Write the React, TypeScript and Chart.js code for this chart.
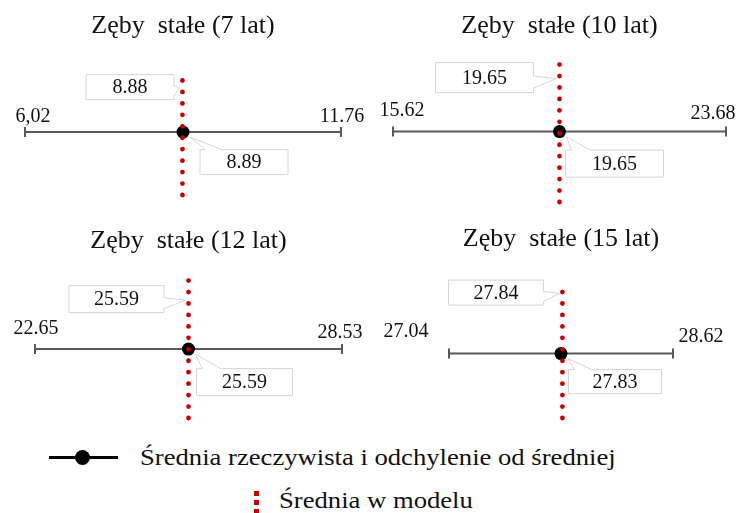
import React, { useEffect, useRef } from "react";
import { Chart, registerables } from "chart.js";

Chart.register(...registerables);

// ---- data ----
const panelTitles = [
  "Zęby  stałe (7 lat)",
  "Zęby  stałe (10 lat)",
  "Zęby  stałe (12 lat)",
  "Zęby  stałe (15 lat)",
];
const lowValues = [6.02, 15.62, 22.65, 27.04];
const highValues = [11.76, 23.68, 28.53, 28.62];
const realMeans = [8.89, 19.65, 25.59, 27.83];
const modelMeans = [8.88, 19.65, 25.59, 27.84];
const lowLabels = ["6,02", "15.62", "22.65", "27.04"];
const highLabels = ["11.76", "23.68", "28.53", "28.62"];
const realLabels = ["8.89", "19.65", "25.59", "27.83"];
const modelLabels = ["8.88", "19.65", "25.59", "27.84"];
const legendLabels = [
  "Średnia rzeczywista i odchylenie od średniej",
  "Średnia w modelu",
];

// ---- layout / style ----
type Layout = {
  left: number;
  top: number;
  w: number;
  h: number;
  pad: { left: number; right: number; top: number; bottom: number };
  titlePad: { top: number; bottom: number };
  lowOff: [number, number];
  highOff: [number, number];
  upBox: [number, number, number, number];
  downBox: [number, number, number, number];
};

const layouts: Layout[] = [
  {
    left: 0, top: 0, w: 371, h: 210,
    pad: { left: 25, right: 30, top: 0, bottom: 15 },
    titlePad: { top: 11, bottom: 27 },
    lowOff: [8, -15], highOff: [1, -15],
    upBox: [-53, -45, 88, 25], downBox: [61, 30, 88, 25],
  },
  {
    left: 371, top: 0, w: 371, h: 210,
    pad: { left: 22, right: 16, top: 0, bottom: 8 },
    titlePad: { top: 11, bottom: 19 },
    lowOff: [9, -21], highOff: [-13, -18],
    upBox: [-75, -54, 98, 30], downBox: [55, 32, 98, 27],
  },
  {
    left: 0, top: 210, w: 371, h: 215,
    pad: { left: 35, right: 29, top: 0, bottom: 5 },
    titlePad: { top: 16, bottom: 23 },
    lowOff: [1, -20], highOff: [-2, -16],
    upBox: [-72, -50, 95, 27], downBox: [56, 33, 96, 27],
  },
  {
    left: 371, top: 210, w: 371, h: 215,
    pad: { left: 78, right: 69, top: 0, bottom: 3 },
    titlePad: { top: 14, bottom: 34 },
    lowOff: [-43, -22], highOff: [28, -17],
    upBox: [-65, -61, 95, 25], downBox: [54, 28, 93, 24],
  },
];

const SERIF = '"Liberation Serif", "Times New Roman", serif';
const RED = "#c80000";
const WHISKER = "#595959";
const BOX_BORDER = "#d6d6d6";

function Panel({ idx }: { idx: number }) {
  const ref = useRef<HTMLCanvasElement | null>(null);
  const L = layouts[idx];

  useEffect(() => {
    if (!ref.current) return;

    const labelPlugin = {
      id: "panelLabels",
      afterDatasetsDraw(chart: any) {
        const ctx = chart.ctx as CanvasRenderingContext2D;
        const xs = chart.scales.x;
        const ys = chart.scales.y;
        const y0 = ys.getPixelForValue(0);
        const lowX = xs.getPixelForValue(lowValues[idx]);
        const highX = xs.getPixelForValue(highValues[idx]);
        const dotX = xs.getPixelForValue(realMeans[idx]);
        const modelX = xs.getPixelForValue(modelMeans[idx]);

        ctx.save();
        ctx.font = `20px ${SERIF}`;
        ctx.fillStyle = "#111";
        ctx.textAlign = "center";
        ctx.textBaseline = "middle";
        ctx.fillText(lowLabels[idx], lowX + L.lowOff[0], y0 + L.lowOff[1]);
        ctx.fillText(highLabels[idx], highX + L.highOff[0], y0 + L.highOff[1]);

        // upper callout (model mean), tail to the right toward red line
        {
          const [dx, dy, w, h] = L.upBox;
          const cx = dotX + dx;
          const cy = y0 + dy;
          const x0 = cx - w / 2, x1 = cx + w / 2, t = cy - h / 2, b = cy + h / 2;
          ctx.beginPath();
          ctx.moveTo(x0, t);
          ctx.lineTo(x1, t);
          ctx.lineTo(x1, t + h * 0.45);
          ctx.lineTo(modelX - 3, cy + 1);
          ctx.lineTo(x1, t + h * 0.85);
          ctx.lineTo(x1, b);
          ctx.lineTo(x0, b);
          ctx.closePath();
          ctx.fillStyle = "#fff";
          ctx.fill();
          ctx.strokeStyle = BOX_BORDER;
          ctx.lineWidth = 1;
          ctx.stroke();
          ctx.fillStyle = "#111";
          ctx.fillText(modelLabels[idx], cx, cy + 1);
        }
        // lower callout (real mean), tail up-left toward dot
        {
          const [dx, dy, w, h] = L.downBox;
          const cx = dotX + dx;
          const cy = y0 + dy;
          const x0 = cx - w / 2, x1 = cx + w / 2, t = cy - h / 2, b = cy + h / 2;
          ctx.beginPath();
          ctx.moveTo(x0, t);
          ctx.lineTo(x0 + w * 0.06, t);
          ctx.lineTo(dotX + 7, y0 + 5);
          ctx.lineTo(x0 + w * 0.25, t);
          ctx.lineTo(x1, t);
          ctx.lineTo(x1, b);
          ctx.lineTo(x0, b);
          ctx.closePath();
          ctx.fillStyle = "#fff";
          ctx.fill();
          ctx.strokeStyle = BOX_BORDER;
          ctx.lineWidth = 1;
          ctx.stroke();
          ctx.fillStyle = "#111";
          ctx.fillText(realLabels[idx], cx, cy + 1);
        }
        ctx.restore();
      },
    };

    const chart = new Chart(ref.current, {
      type: "scatter",
      data: {
        datasets: [
          {
            label: "model",
            data: [
              { x: modelMeans[idx], y: -1 },
              { x: modelMeans[idx], y: 1 },
            ],
            showLine: true,
            borderColor: RED,
            borderWidth: 4.8,
            borderDash: [0, 11.45],
            borderCapStyle: "round",
            pointRadius: 0,
            clip: false,
            order: 0,
          } as any,
          {
            label: "mean",
            data: [{ x: realMeans[idx], y: 0 }],
            showLine: false,
            pointRadius: 6.5,
            pointBackgroundColor: "#000",
            pointBorderColor: "#000",
            pointBorderWidth: 0,
            clip: false,
            order: 1,
          } as any,
          {
            label: "range",
            data: [
              { x: lowValues[idx], y: 0 },
              { x: highValues[idx], y: 0 },
            ],
            showLine: true,
            borderColor: WHISKER,
            borderWidth: 2,
            pointStyle: "line",
            rotation: 90,
            pointRadius: 5,
            pointBorderColor: WHISKER,
            pointBorderWidth: 2,
            clip: false,
            order: 2,
          } as any,
        ],
      },
      options: {
        animation: false,
        responsive: false,
        devicePixelRatio: 1,
        layout: { padding: L.pad },
        scales: {
          x: {
            type: "linear",
            min: lowValues[idx],
            max: highValues[idx],
            display: false,
          },
          y: { type: "linear", min: -1, max: 1, display: false },
        },
        plugins: {
          legend: { display: false },
          tooltip: { enabled: false },
          title: {
            display: true,
            text: panelTitles[idx],
            color: "#111",
            font: { family: SERIF, size: 26, weight: "normal", lineHeight: 1.2 },
            padding: L.titlePad,
          },
        },
      } as any,
      plugins: [labelPlugin],
    });
    return () => chart.destroy();
  }, [idx]);

  return (
    <canvas
      ref={ref}
      width={L.w}
      height={L.h}
      style={{ position: "absolute", left: L.left, top: L.top, width: L.w, height: L.h }}
    />
  );
}

export default function App() {
  const legendText: React.CSSProperties = {
    position: "absolute",
    fontSize: 24,
    lineHeight: "30px",
    color: "#111",
    whiteSpace: "nowrap",
    transform: "scaleX(1.11)",
    transformOrigin: "left center",
  };
  return (
    <div
      style={{
        position: "absolute",
        left: 0,
        top: 0,
        width: 742,
        height: 513,
        background: "#fff",
        overflow: "hidden",
        fontFamily: SERIF,
      }}
    >
      {[0, 1, 2, 3].map((i) => (
        <Panel key={i} idx={i} />
      ))}
      {/* legend */}
      <div style={{ position: "absolute", left: 49, top: 456, width: 69, height: 3, background: "#000" }} />
      <div style={{ position: "absolute", left: 75, top: 450, width: 15, height: 15, borderRadius: "50%", background: "#000" }} />
      <div style={{ ...legendText, left: 140, top: 442 }}>{legendLabels[0]}</div>
      <div
        style={{
          position: "absolute",
          left: 254,
          top: 491,
          width: 5,
          height: 22,
          background: `repeating-linear-gradient(to bottom, ${RED} 0px, ${RED} 5px, transparent 5px, transparent 9px)`,
        }}
      />
      <div style={{ ...legendText, left: 279, top: 485 }}>{legendLabels[1]}</div>
    </div>
  );
}
